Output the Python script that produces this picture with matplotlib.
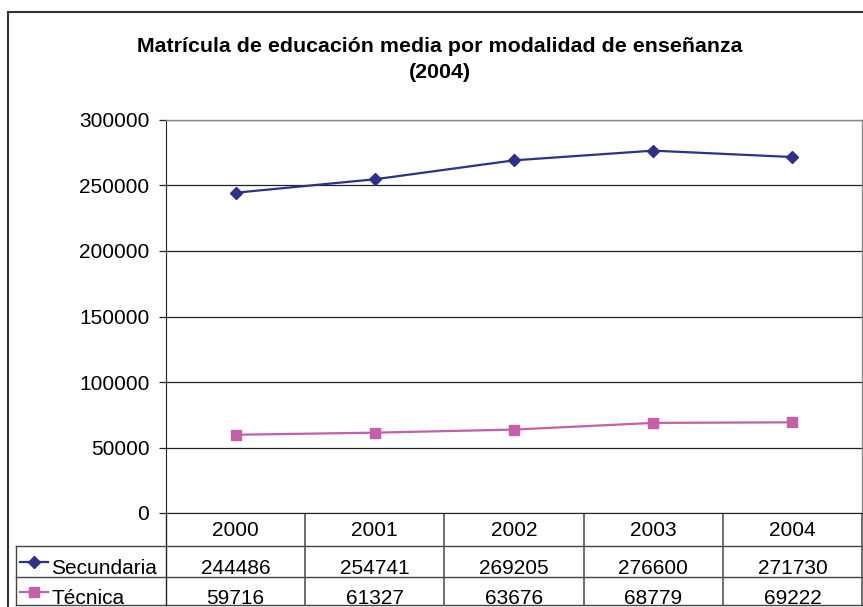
import numpy as np
import matplotlib
matplotlib.use("Agg")
import matplotlib.pyplot as plt
from matplotlib.lines import Line2D

plt.rcParams['font.family'] = ['Liberation Sans', 'DejaVu Sans']

years = ['2000', '2001', '2002', '2003', '2004']
secundaria = [244486, 254741, 269205, 276600, 271730]
tecnica = [59716, 61327, 63676, 68779, 69222]
series_names = ['Secundaria', 'Técnica']
yticks = [0, 50000, 100000, 150000, 200000, 250000, 300000]

W, H = 863, 607
navy = '#2E3188'
pink = '#C55FA8'

fig = plt.figure(figsize=(W / 100, H / 100), dpi=100)

# pixel helper axes for frame, title and table
pax = fig.add_axes([0, 0, 1, 1])
pax.set_xlim(0, W)
pax.set_ylim(H, 0)
pax.axis('off')

x0, x1 = 166, 862
ytop, ybot = 120, 513
ax = fig.add_axes([x0 / W, (H - ybot) / H, (x1 - x0) / W, (ybot - ytop) / H])
xs = np.arange(len(years)) + 0.5
ax.plot(xs, secundaria, color=navy, lw=1.6, marker='D', ms=6, mec=navy, mfc=navy)
ax.plot(xs, tecnica, color=pink, lw=1.6, marker='s', ms=7, mec=pink, mfc=pink)
ax.set_xlim(0, len(years))
ax.set_ylim(0, 300000)
ax.set_yticks(yticks)
ax.set_yticklabels([str(t) for t in yticks], fontsize=15)
ax.set_xticks([])
ax.grid(axis='y', color='#222222', lw=0.9)
ax.set_axisbelow(True)
ax.tick_params(axis='y', length=5, width=0.9, color='#222222', pad=7)
for s in ['top', 'right']:
    ax.spines[s].set_color('#888888')
    ax.spines[s].set_linewidth(1.0)
ax.spines['left'].set_color('#222222')
ax.spines['bottom'].set_color('#222222')

# outer chart frame
pax.add_line(Line2D([8, W], [12, 12], color='#333333', lw=1.5))
pax.add_line(Line2D([8, 8], [12, H], color='#333333', lw=1.5))

pax.text(440, 46, 'Matrícula de educación media por modalidad de enseñanza',
         ha='center', va='center', fontsize=15.4, fontweight='bold')
pax.text(440, 72, '(2004)', ha='center', va='center', fontsize=15.4, fontweight='bold')

# data table
col_w = (x1 - x0) / len(years)
rows = [546, 577, 605]
for y in rows:
    pax.add_line(Line2D([16, x1], [y, y], color='#444444', lw=1.0))
pax.add_line(Line2D([16, 16], [546, 605], color='#444444', lw=1.0))
for i in range(1, len(years) + 1):
    xc = x0 + i * col_w
    pax.add_line(Line2D([xc, xc], [ybot, 605], color='#555555', lw=1.2))
pax.add_line(Line2D([x0, x0], [ybot, 605], color='#222222', lw=1.0))

for i, yr in enumerate(years):
    xc = x0 + (i + 0.5) * col_w
    pax.text(xc, 531, yr, ha='center', va='center', fontsize=15)
    pax.text(xc, 568, str(secundaria[i]), ha='center', va='center', fontsize=15)
    pax.text(xc, 599, str(tecnica[i]), ha='center', va='center', fontsize=15)

pax.add_line(Line2D([20, 48], [562, 562], color=navy, lw=1.6))
pax.plot([34], [562], marker='D', ms=6, color=navy)
pax.text(51, 568, series_names[0], ha='left', va='center', fontsize=15)
pax.add_line(Line2D([20, 48], [592, 592], color=pink, lw=1.6))
pax.plot([34], [592], marker='s', ms=7, color=pink)
pax.text(51, 599, series_names[1], ha='left', va='center', fontsize=15)

fig.savefig('out.png', dpi=100)
